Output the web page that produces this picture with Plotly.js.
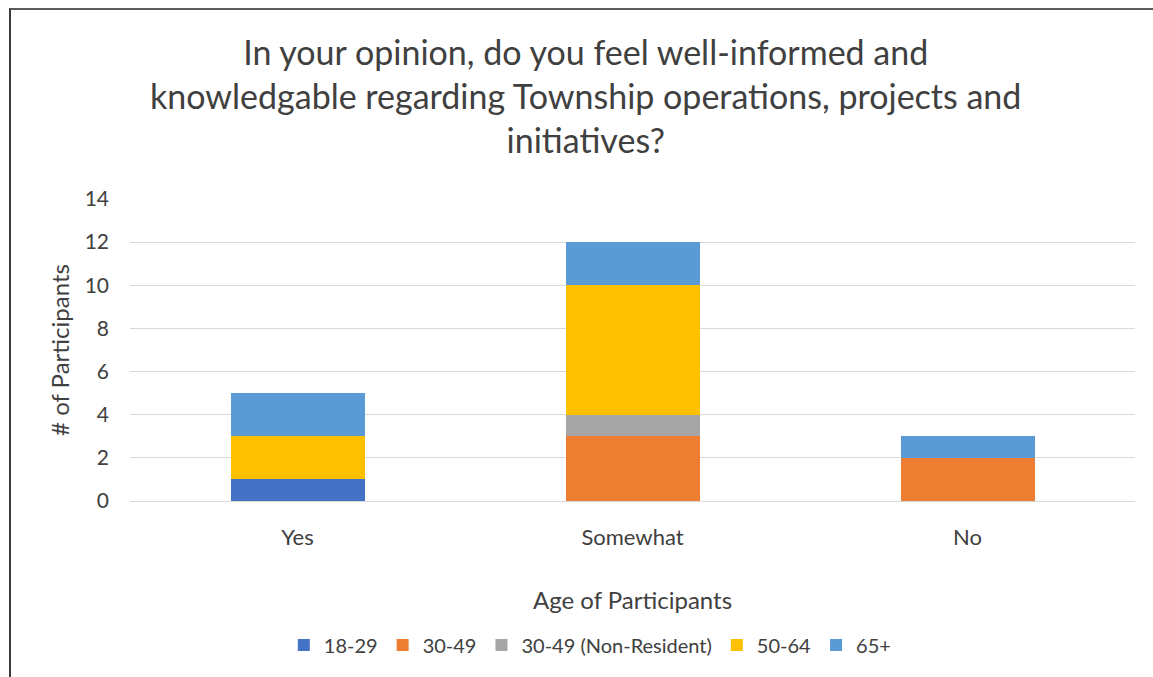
<!DOCTYPE html>
<html>
<head>
<meta charset="utf-8">
<script src="https://cdn.plot.ly/plotly-3.0.1.min.js"></script>
<style>
  html, body { margin: 0; padding: 0; background: #fff; }
  #wrap { position: relative; width: 1153px; height: 677px; overflow: hidden; }
  #chart { position: absolute; left: 0; top: 0; width: 1153px; height: 677px; }
  #frame { position: absolute; left: 9px; top: 8px; width: 1160px; height: 700px;
           border-left: 2px solid #3c3c3c; border-top: 2px solid #5a5a5a; pointer-events: none; }
</style>
</head>
<body>
<div id="wrap">
  <div id="chart"></div>
  <div id="frame"></div>
</div>
<script>
const categories = ["Yes", "Somewhat", "No"];
const seriesNames = ["18-29", "30-49", "30-49 (Non-Resident)", "50-64", "65+"];
const v18_29 = [1, 0, 0];
const v30_49 = [0, 3, 2];
const v30_49NonRes = [0, 1, 0];
const v50_64 = [2, 6, 0];
const v65plus = [2, 2, 1];
const yTicks = [0, 2, 4, 6, 8, 10, 12, 14];
const colors = ["#4472C4", "#ED7D31", "#A5A5A5", "#FFC000", "#5B9BD5"];
const seriesValues = [v18_29, v30_49, v30_49NonRes, v50_64, v65plus];

const font = "Lato, 'Open Sans', sans-serif";
const traces = seriesValues.map((vals, i) => ({
  type: "bar",
  name: seriesNames[i],
  x: categories,
  y: vals,
  marker: { color: colors[i] },
  hoverinfo: "x+y+name"
}));

const layout = {
  width: 1153, height: 677,
  barmode: "stack",
  bargap: 0.6,
  paper_bgcolor: "#fff",
  plot_bgcolor: "#fff",
  margin: { l: 130, r: 18, t: 199, b: 176 },
  font: { family: font, color: "#404040", size: 20 },
  title: {
    text: "In your opinion, do you feel well-informed and<br>knowledgable regarding Township operations, projects and<br>initiatives?",
    font: { family: font, size: 34, color: "#404040" },
    x: 0.508, xanchor: "center", xref: "container",
    y: 1 - 65 / 677, yanchor: "middle", yref: "container"
  },
  xaxis: {
    type: "category",
    showgrid: false,
    showline: true, linecolor: "#d9d9d9", linewidth: 1,
    ticks: "", ticklabelstandoff: 17,
    tickfont: { size: 22, color: "#404040" },
    title: { text: "Age of Participants", font: { size: 24, color: "#404040" }, standoff: 42 },
    automargin: false
  },
  yaxis: {
    range: [0, 14],
    tickvals: yTicks,
    showgrid: true, gridcolor: "#d9d9d9", gridwidth: 1,
    zeroline: false, showline: false,
    ticks: "", ticklabelstandoff: 20,
    tickfont: { size: 21, color: "#404040" },
    title: { text: "# of Participants", font: { size: 24, color: "#404040" }, standoff: 8 },
    automargin: false
  },
  legend: {
    orientation: "h",
    x: 0.458, xanchor: "center",
    y: -0.477, yanchor: "middle",
    font: { size: 20, color: "#404040" },
    traceorder: "normal",
    itemwidth: 30
  },
  showlegend: true
};

Plotly.newPlot("chart", traces, layout, { displayModeBar: false, staticPlot: true });
</script>
</body>
</html>
